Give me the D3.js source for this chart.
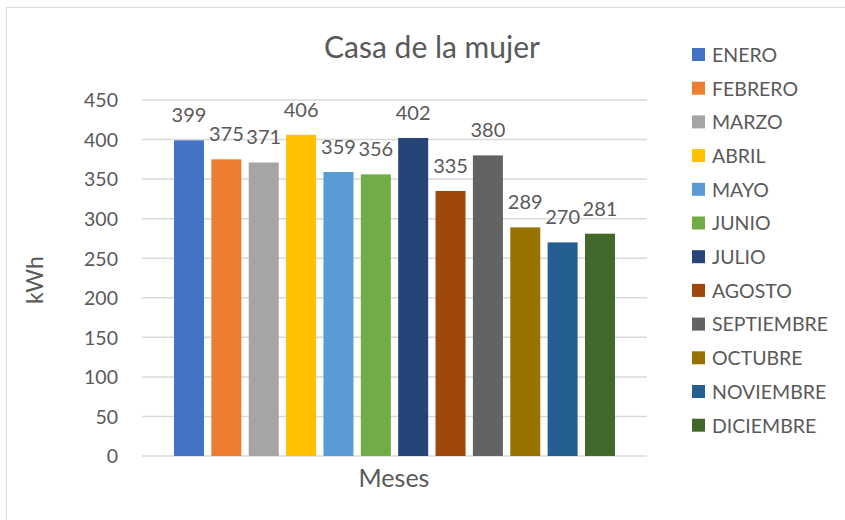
<!DOCTYPE html>
<html>
<head>
<meta charset="utf-8">
<script src="https://cdn.jsdelivr.net/npm/d3@7"></script>
<style>
  body { margin: 0; background: #fff; }
  svg text { font-family: Lato, "Open Sans", sans-serif; fill: #595959; }
</style>
</head>
<body>
<div id="chart"></div>
<script>
const months = ["ENERO", "FEBRERO", "MARZO", "ABRIL", "MAYO", "JUNIO", "JULIO",
  "AGOSTO", "SEPTIEMBRE", "OCTUBRE", "NOVIEMBRE", "DICIEMBRE"];
const values = [399, 375, 371, 406, 359, 356, 402, 335, 380, 289, 270, 281];
const colors = ["#4472c4", "#ed7d31", "#a5a5a5", "#ffc000", "#5b9bd5", "#70ad47",
  "#264478", "#9e480e", "#636363", "#997300", "#255e91", "#43682b"];
const yTicks = [0, 50, 100, 150, 200, 250, 300, 350, 400, 450];
const categories = ["Meses"];

const width = 845;
const height = 520;
const plot = { left: 142, right: 647, top: 100, bottom: 456 };

const svg = d3.select("#chart").append("svg")
  .attr("width", width)
  .attr("height", height);

svg.append("rect")
  .attr("x", 6.5).attr("y", 7.5)
  .attr("width", width + 10).attr("height", height + 10)
  .attr("fill", "#fff")
  .attr("stroke", "#d9d9d9");

const y = d3.scaleLinear().domain([0, 450]).range([plot.bottom, plot.top]);
const x0 = d3.scaleBand().domain(categories).range([plot.left, plot.right]).padding(0);
const x1 = d3.scaleBand().domain(months).range([0, x0.bandwidth()])
  .paddingInner(0.197).paddingOuter(0.857);

// gridlines
svg.append("g")
  .selectAll("line")
  .data(yTicks)
  .join("line")
  .attr("x1", plot.left).attr("x2", plot.right)
  .attr("y1", (d) => y(d)).attr("y2", (d) => y(d))
  .attr("stroke", "#d9d9d9")
  .attr("stroke-width", 1.5);

// y axis labels
const yAxis = svg.append("g")
  .attr("transform", `translate(118,0)`)
  .call(d3.axisLeft(y).tickValues(yTicks).tickSize(0).tickPadding(0));
yAxis.select(".domain").remove();
yAxis.selectAll("text")
  .attr("font-size", 19.5)
  .attr("font-family", null)
  .attr("fill", "#595959")
  .attr("dy", "0.35em");

// bars
const group = svg.append("g")
  .selectAll("g")
  .data(categories)
  .join("g")
  .attr("transform", (d) => `translate(${x0(d)},0)`);

group.selectAll("rect")
  .data(months.map((m, i) => ({ month: m, value: values[i], color: colors[i] })))
  .join("rect")
  .attr("x", (d) => x1(d.month))
  .attr("y", (d) => y(d.value))
  .attr("width", x1.bandwidth())
  .attr("height", (d) => y(0) - y(d.value))
  .attr("fill", (d) => d.color);

group.selectAll("text")
  .data(months.map((m, i) => ({ month: m, value: values[i] })))
  .join("text")
  .attr("x", (d) => x1(d.month) + x1.bandwidth() / 2)
  .attr("y", (d) => y(d.value) - 18)
  .attr("text-anchor", "middle")
  .attr("font-size", 20)
  .text((d) => d.value);

// title and axis titles
svg.append("text")
  .attr("x", 432).attr("y", 58)
  .attr("text-anchor", "middle")
  .attr("font-size", 30)
  .text("Casa de la mujer");

svg.append("text")
  .attr("x", 394).attr("y", 487)
  .attr("text-anchor", "middle")
  .attr("font-size", 25)
  .text("Meses");

svg.append("text")
  .attr("transform", "translate(43,280) rotate(-90)")
  .attr("text-anchor", "middle")
  .attr("font-size", 23)
  .text("kWh");

// legend
const legend = svg.append("g")
  .selectAll("g")
  .data(months)
  .join("g")
  .attr("transform", (d, i) => `translate(692,${55 + i * 33.7})`);

legend.append("rect")
  .attr("x", 0).attr("y", -7)
  .attr("width", 13).attr("height", 13)
  .attr("fill", (d, i) => colors[i]);

legend.append("text")
  .attr("x", 20).attr("y", 0)
  .attr("dy", "0.35em")
  .attr("font-size", 19.5)
  .text((d) => d);
</script>
</body>
</html>
